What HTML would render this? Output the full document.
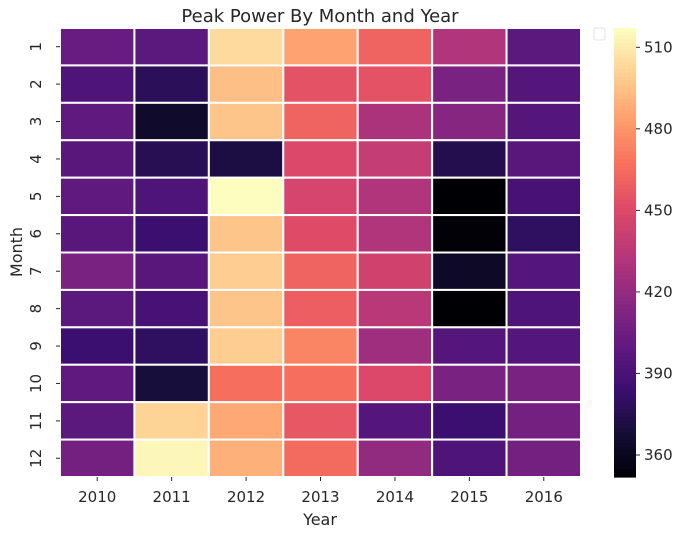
<!DOCTYPE html>
<html><head><meta charset="utf-8"><style>
body{margin:0;background:#fff;font-family:"Liberation Sans","DejaVu Sans",sans-serif}
svg text{font-family:"DejaVu Sans","Liberation Sans",sans-serif;fill:#262626}
</style></head><body>
<svg id="c" width="688" height="536"></svg>
<script>
const years=["2010","2011","2012","2013","2014","2015","2016"];
const months=["1","2","3","4","5","6","7","8","9","10","11","12"];
const row1=[403,398,505,485,462,432,398];
const row2=[393,378,495,455,455,410,395];
const row3=[400,365,497,462,430,415,395];
const row4=[397,377,372,450,440,375,397];
const row5=[400,393,517,447,432,352,390];
const row6=[397,385,497,452,432,353,380];
const row7=[410,397,500,462,445,363,395];
const row8=[398,390,497,460,435,352,393];
const row9=[385,380,500,475,425,395,395];
const row10=[400,370,467,467,450,410,410];
const row11=[398,502,487,457,395,385,408];
const row12=[408,515,490,465,420,393,408];
const values=[row1,row2,row3,row4,row5,row6,row7,row8,row9,row10,row11,row12];
const cbTicks=[360,390,420,450,480,510];
const vmin=351.9,vmax=517.1;
const stops=["#000004","#140e36","#3b0f70","#641a80","#8c2981","#b73779","#de4968","#f7705c","#fe9f6d","#fecf92","#fcfdbf"];
function hx(h){return [1,3,5].map(i=>parseInt(h.substr(i,2),16));}
function magma(t){t=Math.max(0,Math.min(1,t));const p=t*10,i=Math.min(9,Math.floor(p)),f=p-i;const a=hx(stops[i]),b=hx(stops[i+1]);return "rgb("+a.map((v,k)=>Math.round(v+(b[k]-v)*f)).join(",")+")";}
const NS="http://www.w3.org/2000/svg",svg=document.getElementById('c');
function el(t,at,txt){const e=document.createElementNS(NS,t);for(const k in at)e.setAttribute(k,at[k]);if(txt!=null)e.textContent=txt;svg.appendChild(e);return e;}
const X0=60,X1=581,Y0=28,Y1=477,cw=(X1-X0)/years.length,ch=(Y1-Y0)/months.length;
const xs=i=>X0+i*cw, ys=j=>Y0+j*ch;
values.forEach((r,j)=>r.forEach((v,i)=>{
 const c=el('rect',{x:xs(i),y:ys(j),width:cw,height:ch,fill:magma((v-vmin)/(vmax-vmin)),stroke:'#fff','stroke-width':2});
 
 
}));
years.forEach((y,i)=>{const t=el('text',{x:xs(i)+cw/2,y:502,'text-anchor':'middle','font-size':15},y);
 
 el('line',{x1:xs(i)+cw/2,x2:xs(i)+cw/2,y1:Y1,y2:Y1+4,stroke:'#262626'});});
months.forEach((m,j)=>{const cy=ys(j)+ch/2;const t=el('text',{x:0,y:0,transform:`translate(41,${cy}) rotate(-90)`,'text-anchor':'middle','font-size':15},m);
 
 el('line',{x1:X0-4,x2:X0,y1:cy,y2:cy,stroke:'#262626'});});
let t=el('text',{x:320,y:22,'text-anchor':'middle','font-size':18},'Peak Power By Month and Year');

t=el('text',{x:320,y:525,'text-anchor':'middle','font-size':16},'Year');

t=el('text',{x:0,y:0,transform:'translate(22,252) rotate(-90)','text-anchor':'middle','font-size':16},'Month');

// colorbar
const CX=614,CW=22,N=120;
for(let k=0;k<N;k++){const r=el('rect',{x:CX,y:Y0+(Y1-Y0)*k/N,width:CW,height:(Y1-Y0)/N+0.6,fill:magma(1-k/N)});
 }
const cy=v=>Y1-(v-vmin)/(vmax-vmin)*(Y1-Y0);
cbTicks.forEach(v=>{el('line',{x1:CX+CW,x2:CX+CW+4,y1:cy(v),y2:cy(v),stroke:'#262626'});
 const tt=el('text',{x:CX+CW+8,y:cy(v)+5,'font-size':15},String(v));
 });
const lg=el('rect',{x:594,y:28,width:11,height:12,rx:2,fill:'#fff',stroke:'#e0e0e0'});

</script>
</body></html>
